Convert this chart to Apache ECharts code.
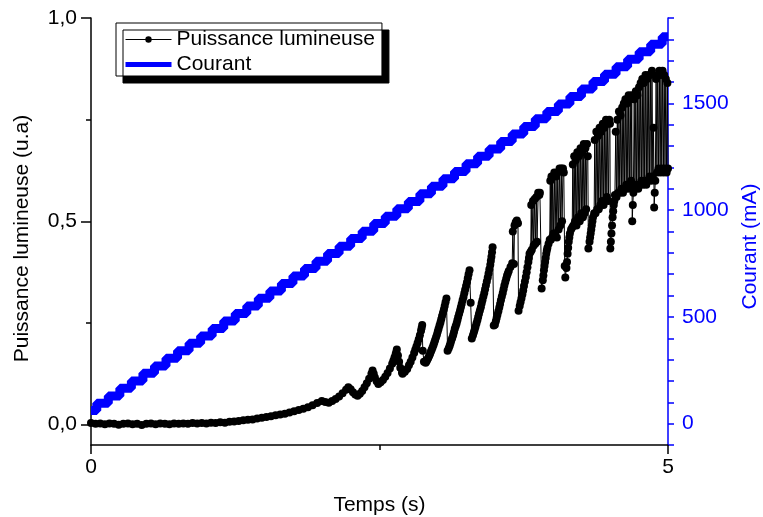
<!DOCTYPE html>
<html><head><meta charset="utf-8">
<script src="https://cdn.jsdelivr.net/npm/echarts@6/dist/echarts.min.js"></script>
<style>html,body{margin:0;padding:0;background:#fff}#c{width:763px;height:517px}</style>
</head><body><div id="c"></div>
<script>
// Courant (mA) versus temps (s)
const courantT = [0.0,0.1,0.2,0.3,0.4,0.5,0.6,0.7,0.8,0.9,1.0,1.1,1.2,1.3,1.4,1.5,1.6,1.7,1.8,1.9,2.0,2.1,2.2,2.3,2.4,2.5,2.6,2.7,2.8,2.9,3.0,3.1,3.2,3.3,3.4,3.5,3.6,3.7,3.8,3.9,4.0,4.1,4.2,4.3,4.4,4.5,4.6,4.7,4.8,4.9,5.0];
const courantI = [62,95,130,166,200,236,270,306,341,376,411,446,481,516,551,587,621,657,691,727,761,797,831,867,901,937,972,1007,1041,1077,1112,1147,1181,1217,1252,1287,1322,1357,1392,1428,1462,1497,1532,1567,1602,1637,1672,1707,1742,1777,1812];

// Puissance lumineuse (u.a) : [temps, valeur]
const puissanceLente = [
[0.00,0.004],[0.04,0.002],[0.08,0.003],[0.12,0.001],[0.16,0.003],[0.20,0.002],[0.24,0.000],[0.28,0.002],[0.32,0.003],[0.36,0.001],
[0.40,0.002],[0.44,-0.001],[0.48,0.002],[0.52,0.003],[0.56,0.001],[0.60,0.003],[0.64,0.002],[0.68,0.001],[0.72,0.003],[0.76,0.002],
[0.80,0.003],[0.84,0.002],[0.88,0.004],[0.92,0.003],[0.96,0.004],[1.00,0.003],[1.04,0.005],[1.08,0.004],[1.12,0.006],[1.16,0.005],
[1.20,0.007],[1.24,0.008],[1.28,0.009],[1.32,0.011],[1.36,0.012],[1.40,0.013],[1.44,0.015],[1.48,0.017],[1.52,0.019],[1.56,0.021],
[1.60,0.023],[1.64,0.025],[1.68,0.027],[1.72,0.030],[1.76,0.033],[1.80,0.036],[1.84,0.039],[1.88,0.043],[1.92,0.048],[1.96,0.053],
[2.00,0.058],[2.03,0.056],[2.06,0.054],
[2.09,0.058],[2.12,0.063],[2.15,0.069],[2.18,0.077],[2.21,0.086],[2.23,0.092],
[2.25,0.087],[2.27,0.080],[2.29,0.074],[2.31,0.071],
[2.33,0.076],[2.35,0.083],[2.37,0.092],[2.39,0.102],[2.41,0.113],[2.43,0.125],[2.44,0.133],
[2.45,0.125],[2.46,0.116],[2.475,0.107],[2.49,0.100],
[2.51,0.104],[2.53,0.110],[2.55,0.118],[2.57,0.127],[2.59,0.138],[2.61,0.150],[2.62,0.157],[2.63,0.165],[2.64,0.173],[2.645,0.178],[2.65,0.185],
[2.66,0.170],[2.67,0.155],[2.68,0.140],[2.695,0.128],[2.70,0.125],
[2.72,0.130],[2.74,0.137],[2.755,0.146],[2.77,0.155],[2.785,0.165],[2.80,0.176],[2.81,0.184],[2.82,0.192],[2.83,0.201],[2.84,0.210],[2.85,0.220],[2.86,0.231],[2.865,0.238],[2.87,0.245],
[2.875,0.182],[2.885,0.155],
[2.90,0.152],[2.908,0.156],[2.915,0.160],[2.922,0.164],[2.93,0.169],[2.938,0.174],[2.945,0.179],[2.952,0.184],[2.96,0.190],[2.968,0.196],
[2.975,0.202],[2.982,0.208],[2.99,0.215],[2.998,0.222],[3.005,0.229],[3.012,0.236],[3.02,0.244],[3.028,0.251],[3.035,0.259],[3.042,0.267],
[3.05,0.275],[3.058,0.283],[3.065,0.292],[3.072,0.301],[3.08,0.310],
[3.09,0.182],
[3.10,0.188],[3.108,0.194],[3.115,0.200],[3.122,0.207],[3.13,0.213],[3.138,0.220],[3.145,0.227],[3.152,0.235],[3.16,0.242],[3.168,0.249],
[3.175,0.257],[3.182,0.265],[3.19,0.273],[3.198,0.281],[3.205,0.289],[3.212,0.297],[3.22,0.306],[3.228,0.314],[3.235,0.323],[3.242,0.332],
[3.25,0.341],[3.258,0.350],[3.265,0.360],[3.272,0.370],[3.28,0.380],
[3.29,0.300],[3.30,0.212],
[3.31,0.220],[3.318,0.227],[3.325,0.234],[3.332,0.241],[3.34,0.249],[3.348,0.257],[3.355,0.265],[3.362,0.273],[3.37,0.281],[3.378,0.289],
[3.385,0.298],[3.392,0.306],[3.40,0.315],[3.408,0.324],[3.415,0.333],[3.422,0.342],[3.43,0.352],[3.438,0.362],[3.445,0.372],[3.452,0.382],
[3.46,0.393],[3.465,0.403],[3.47,0.413],[3.475,0.424],[3.48,0.436],
[3.49,0.244],
[3.50,0.246],[3.508,0.254],[3.515,0.262],[3.522,0.270],[3.53,0.279],[3.538,0.288],[3.545,0.297],[3.552,0.306],[3.56,0.315],[3.568,0.324],
[3.575,0.333],[3.582,0.342],[3.59,0.351],[3.598,0.359],[3.605,0.366],[3.612,0.372],[3.62,0.378],[3.635,0.388],[3.65,0.397],
[3.655,0.475],[3.665,0.395],[3.67,0.490],[3.68,0.498],[3.69,0.502],[3.70,0.495],
[3.705,0.280],
[3.715,0.292],[3.722,0.301],[3.73,0.310],[3.738,0.320],[3.745,0.330],[3.752,0.341],[3.76,0.352],[3.768,0.363],[3.775,0.375],[3.782,0.387],
[3.79,0.400],[3.795,0.410],[3.80,0.420],[3.81,0.425],[3.815,0.540],[3.82,0.430],
[3.83,0.550],[3.835,0.440],[3.845,0.555],[3.85,0.445],[3.86,0.560],[3.865,0.450],[3.875,0.570],[3.885,0.565],[3.89,0.570],
[3.905,0.335]
];
const puissanceChaotique = [
[3.915,0.355],[3.92,0.367],[3.925,0.38],[3.93,0.39],[3.935,0.40],[3.94,0.41],[3.945,0.42],[3.95,0.428],[3.955,0.435],[3.965,0.445],
[3.975,0.455],[3.98,0.60],[3.985,0.455],[3.99,0.61],
[3.995,0.46],[4.00,0.61],[4.008,0.47],[4.015,0.62],[4.022,0.47],[4.03,0.61],[4.037,0.46],[4.045,0.62],[4.052,0.48],[4.06,0.63],
[4.067,0.49],[4.075,0.63],[4.082,0.50],[4.09,0.63],[4.097,0.62],[4.105,0.39],[4.11,0.362],
[4.12,0.385],[4.125,0.40],[4.13,0.42],[4.135,0.435],[4.14,0.45],[4.145,0.46],[4.15,0.47],[4.16,0.48],[4.17,0.485],[4.175,0.64],[4.18,0.49],[4.187,0.66],[4.194,0.50],
[4.20,0.65],[4.207,0.49],[4.214,0.67],[4.221,0.51],[4.228,0.66],[4.235,0.50],[4.242,0.68],[4.249,0.52],[4.256,0.67],[4.263,0.51],
[4.27,0.69],[4.277,0.52],[4.284,0.68],[4.291,0.53],[4.298,0.69],[4.305,0.66],[4.31,0.433],
[4.32,0.45],[4.325,0.46],[4.33,0.47],[4.335,0.48],[4.34,0.49],[4.345,0.50],[4.35,0.51],[4.36,0.52],[4.365,0.70],[4.372,0.52],[4.379,0.72],[4.386,0.53],[4.393,0.71],
[4.40,0.53],[4.407,0.73],[4.414,0.54],[4.421,0.72],[4.428,0.55],[4.435,0.74],[4.442,0.54],[4.449,0.73],[4.456,0.55],[4.463,0.75],
[4.47,0.56],[4.477,0.74],[4.484,0.55],[4.491,0.75],[4.497,0.74],[4.50,0.433],
[4.505,0.45],[4.51,0.47],[4.515,0.49],[4.52,0.51],[4.525,0.525],[4.53,0.54],[4.535,0.55],[4.54,0.565],[4.547,0.72],[4.554,0.56],[4.561,0.75],[4.568,0.57],[4.575,0.77],[4.582,0.57],
[4.589,0.76],[4.596,0.58],[4.603,0.78],[4.61,0.57],[4.617,0.79],[4.624,0.58],[4.631,0.80],[4.638,0.59],[4.645,0.79],[4.652,0.58],
[4.659,0.81],[4.666,0.59],[4.673,0.80],[4.68,0.60],[4.686,0.81],[4.69,0.50],
[4.695,0.54],[4.70,0.57],[4.707,0.80],[4.714,0.58],[4.721,0.82],[4.728,0.59],[4.735,0.81],[4.742,0.58],[4.749,0.83],[4.756,0.59],[4.763,0.84],
[4.77,0.60],[4.777,0.85],[4.784,0.59],[4.791,0.84],[4.798,0.60],[4.805,0.86],[4.812,0.59],[4.819,0.85],[4.826,0.60],[4.833,0.86],
[4.84,0.61],[4.847,0.86],[4.854,0.60],[4.861,0.87],[4.868,0.61],[4.875,0.73],[4.88,0.534],
[4.885,0.57],[4.89,0.60],[4.897,0.85],[4.904,0.62],[4.911,0.86],[4.918,0.63],[4.925,0.87],[4.932,0.62],[4.939,0.86],[4.946,0.63],[4.953,0.87],
[4.96,0.62],[4.967,0.86],[4.974,0.63],[4.981,0.85],[4.988,0.62],[4.995,0.84],[5.00,0.63]
];

const puissanceLabels = [0, 0.5, 1];
const puissanceMinorTicks = [0.25, 0.75];
const courantLabels = [0, 500, 1000, 1500];

const FONT = '"Liberation Sans", Arial, sans-serif';
const chart = echarts.init(document.getElementById('c'), null, {renderer: 'canvas'});
const courantData = courantT.map((t, i) => [t, courantI[i]]);
const puissanceData = puissanceLente.concat(puissanceChaotique);

chart.setOption({
  animation: false,
  backgroundColor: '#fff',
  textStyle: {fontFamily: FONT},
  grid: {left: 91, right: 95, top: 18, bottom: 72, containLabel: false, outerBoundsMode: 'none'},
  legend: {
    orient: 'vertical', left: 116, top: 23,
    padding: [6, 7, 1, 7], itemGap: 4, itemWidth: 46, itemHeight: 8,
    backgroundColor: '#fff', borderColor: '#000', borderWidth: 1, borderRadius: 0,
    shadowColor: '#000', shadowBlur: 0, shadowOffsetX: 7, shadowOffsetY: 7,
    textStyle: {fontSize: 21, color: '#000', fontFamily: FONT},
    data: [
      {name: 'Puissance lumineuse', lineStyle: {width: 1, color: '#000'}},
      {name: 'Courant', lineStyle: {width: 5, color: '#0000ff'}, itemStyle: {color: 'rgba(0,0,0,0)', borderWidth: 0}}
    ]
  },
  xAxis: [{
    type: 'value', min: 0, max: 5, interval: 5,
    name: 'Temps (s)', nameLocation: 'middle', nameGap: 50,
    nameTextStyle: {fontSize: 21, color: '#000', fontFamily: FONT},
    axisLine: {show: true, onZero: false, lineStyle: {color: '#000', width: 1.5}},
    axisTick: {show: true, inside: false, length: 9, lineStyle: {color: '#000', width: 1.5}},
    minorTick: {show: true, splitNumber: 2, length: 5, lineStyle: {color: '#000', width: 1.5}},
    axisLabel: {fontSize: 21, color: '#000', margin: 12, fontFamily: FONT},
    splitLine: {show: false}
  }],
  yAxis: [{
    type: 'value', min: -0.05, max: 1.0, position: 'left',
    name: 'Puissance lumineuse (u.a)', nameLocation: 'middle', nameGap: 58, nameRotate: 90,
    nameTextStyle: {fontSize: 21, color: '#000', fontFamily: FONT, padding: [0, 14, 0, 0]},
    axisLine: {show: true, onZero: false, lineStyle: {color: '#000', width: 1.5}},
    axisTick: {show: true, inside: false, length: 10, customValues: puissanceLabels, lineStyle: {color: '#000', width: 1.5}},
    axisLabel: {fontSize: 21, color: '#000', margin: 14, fontFamily: FONT, customValues: puissanceLabels,
      formatter: v => v.toFixed(1).replace('.', ',')},
    splitLine: {show: false}
  }, {
    type: 'value', min: -100, max: 1900, interval: 100, position: 'right',
    name: 'Courant (mA)', nameLocation: 'middle', nameGap: 70, nameRotate: 90,
    nameTextStyle: {fontSize: 21, color: '#0000ff', fontFamily: FONT, padding: [0, 30, 0, 0]},
    axisLine: {show: true, onZero: false, lineStyle: {color: '#0000ff', width: 1.5}},
    axisTick: {show: true, inside: false, length: 6, lineStyle: {color: '#0000ff', width: 1.5}},
    axisLabel: {fontSize: 21, color: '#0000ff', margin: 14, fontFamily: FONT, customValues: courantLabels,
      formatter: v => String(Math.round(v))},
    splitLine: {show: false}
  }, {
    type: 'value', min: -0.05, max: 1.0, position: 'left',
    axisLine: {show: false},
    axisTick: {show: true, inside: false, length: 5, customValues: puissanceMinorTicks, lineStyle: {color: '#000', width: 1.5}},
    axisLabel: {show: false},
    splitLine: {show: false}
  }],
  series: [{
    name: 'Puissance lumineuse', type: 'line', xAxisIndex: 0, yAxisIndex: 0,
    data: puissanceData, symbol: 'circle', symbolSize: 8, showSymbol: true,
    lineStyle: {color: '#000', width: 1}, itemStyle: {color: '#000'}, z: 2
  }, {
    name: 'Courant', type: 'line', xAxisIndex: 0, yAxisIndex: 1,
    data: courantData, step: 'middle', showSymbol: false, symbol: 'none',
    lineStyle: {color: '#0000ff', width: 9}, itemStyle: {color: '#0000ff'}, z: 3
  }]
});
</script></body></html>
